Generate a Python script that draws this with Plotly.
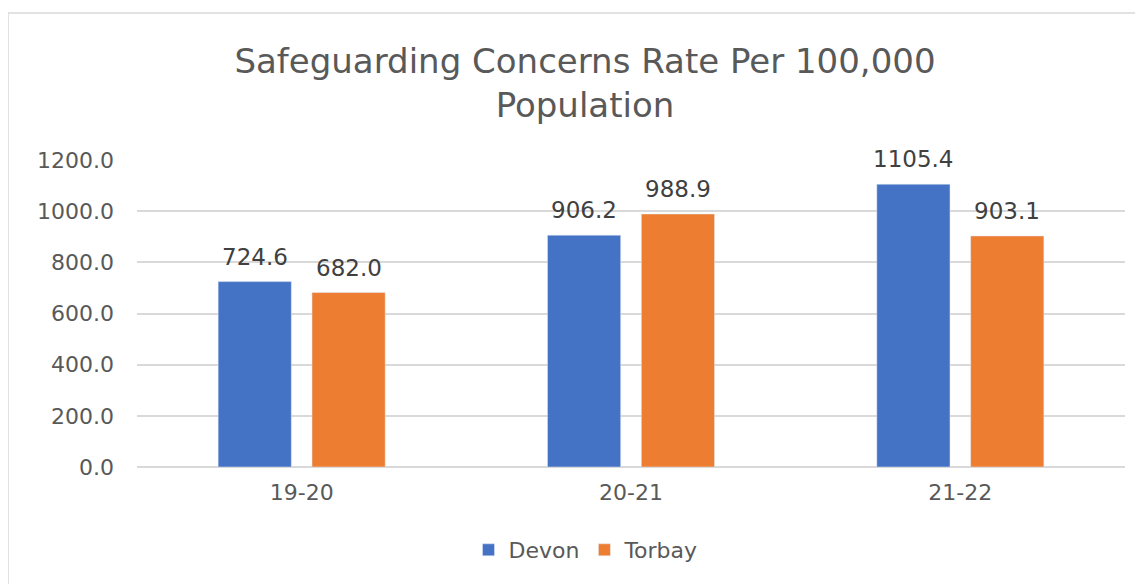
import plotly.graph_objects as go

# Werte aus dem Diagramm
years = ["19-20", "20-21", "21-22"]
devon = [724.6, 906.2, 1105.4]
torbay = [682.0, 988.9, 903.1]
y_ticks = [0, 200, 400, 600, 800, 1000, 1200]

W, H = 1143, 584
OFF = 8  # Seitenrand des Browsers
left, right = 137 - OFF, 1125 - OFF
top, bottom = 160 - OFF, 467 - OFF
FONT = "DejaVu Sans"

fig = go.Figure()
fig.add_trace(go.Bar(x=years, y=devon, name="Devon", marker_color="#4472C4"))
fig.add_trace(go.Bar(x=years, y=torbay, name="Torbay", marker_color="#ED7D31"))

# Datenbeschriftungen über den Balken
annotations = []
for series, shift in ((devon, -47), (torbay, 47)):
    for cat, val in zip(years, series):
        annotations.append(dict(x=cat, y=val, xref="x", yref="y", text=f"{val:.1f}",
                                showarrow=False, xshift=shift, yshift=25,
                                yanchor="middle", font=dict(size=23, color="#404040", family=FONT)))

fig.update_layout(
    width=W, height=H,
    margin=dict(l=left, r=W - right, t=top, b=H - bottom, autoexpand=False),
    paper_bgcolor="white", plot_bgcolor="white",
    font=dict(family=FONT, color="#595959"),
    title=dict(text="Safeguarding Concerns Rate Per 100,000<br>Population",
               x=(585 - OFF) / W, xanchor="center", xref="container",
               y=1 - 65 / H, yanchor="middle", yref="container",
               font=dict(size=34, color="#595959", family=FONT)),
    barmode="group", bargap=0.43, bargroupgap=0.22,
    legend=dict(orientation="h", x=(586 - OFF) / W, xanchor="center", xref="container",
                y=1 - (550 - OFF) / H, yanchor="middle", yref="container",
                font=dict(size=22, color="#595959", family=FONT)),
    showlegend=True,
    annotations=annotations,
    shapes=[dict(type="rect", xref="paper", yref="paper",
                 x0=(8 - OFF - left) / (right - left), x1=(1160 - left) / (right - left),
                 y0=(bottom - 600) / (bottom - top), y1=(bottom - 13 + OFF) / (bottom - top),
                 line=dict(color="#d9d9d9", width=1.5), layer="below")],
)
fig.update_xaxes(showgrid=False, showline=False, ticks="", automargin=False,
                 tickfont=dict(size=22, color="#595959", family=FONT), ticklabelstandoff=10)
fig.update_yaxes(range=[0, 1200], tickvals=y_ticks, tickformat=".1f", automargin=False,
                 gridcolor="#d9d9d9", gridwidth=1.5, zeroline=True, zerolinecolor="#d9d9d9",
                 tickfont=dict(size=22, color="#595959", family=FONT), ticks="",
                 showline=False, ticklabelstandoff=22)

fig.write_html("out.html")
